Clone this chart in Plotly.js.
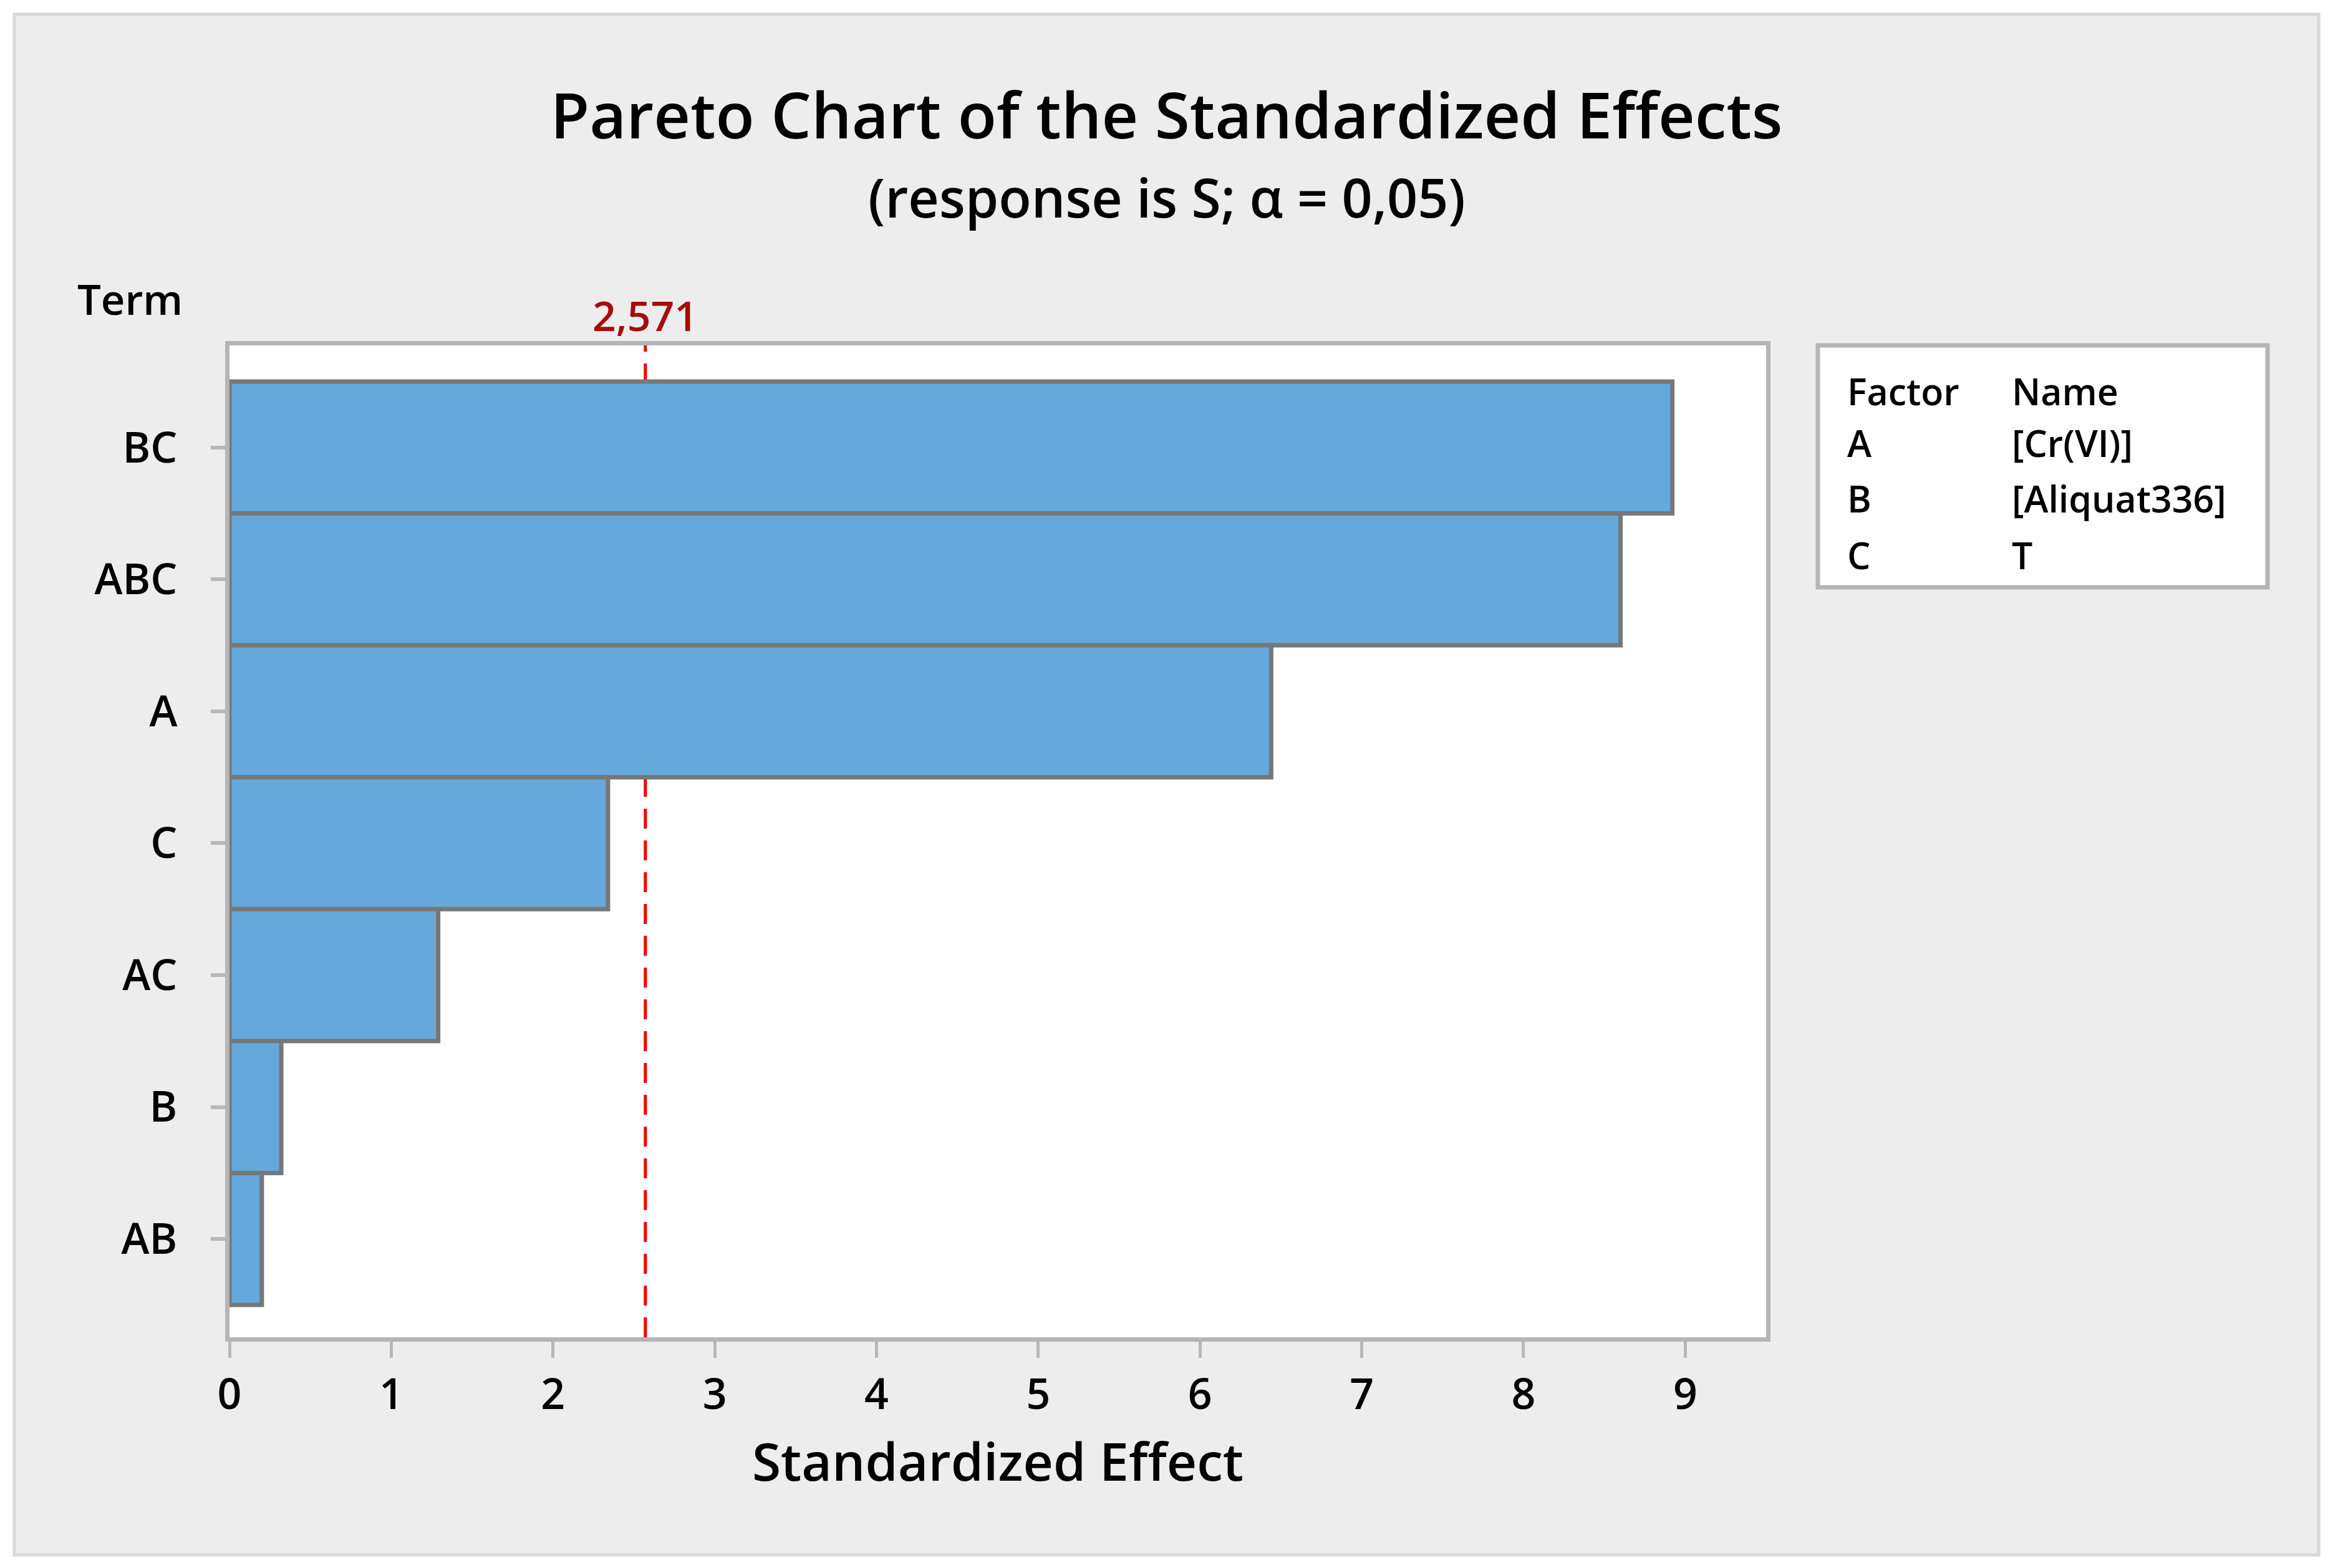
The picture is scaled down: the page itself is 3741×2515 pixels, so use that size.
<!DOCTYPE html>
<html>
<head>
<meta charset="utf-8">
<script src="https://cdn.plot.ly/plotly-3.0.1.min.js"></script>
<style>html,body{margin:0;padding:0;background:#fff;}#chart{width:3741px;height:2515px;}</style>
</head>
<body>
<div id="chart"></div>
<script>
// ---- data ----
const terms = ["BC", "ABC", "A", "C", "AC", "B", "AB"];
const effects = [8.92, 8.60, 6.44, 2.34, 1.29, 0.32, 0.20];
const criticalValue = 2.571;
const criticalLabel = "2,571";
const xTickVals = [0, 1, 2, 3, 4, 5, 6, 7, 8, 9];
const factorLetters = ["A", "B", "C"];
const factorNames = ["[Cr(VI)]", "[Aliquat336]", "T"];

// ---- layout geometry ----
const W = 3741, H = 2515;
const L = 368, R = 909, T = 554, B = 370;
const pw = W - L - R, ph = H - T - B;
const px = p => (p - L) / pw;
const py = p => (H - B - p) / ph;
const FONT = "Open Sans, Noto Sans, DejaVu Sans, sans-serif";
const WT = 600;

const shapes = [
  {type: "line", xref: "x", yref: "paper", x0: criticalValue, x1: criticalValue, y0: 0, y1: 1,
   line: {color: "#ee0000", width: 5, dash: "32px,19px"}, layer: "below"},
  {type: "rect", xref: "paper", yref: "paper", x0: px(2915), x1: px(3636), y0: py(554), y1: py(942),
   fillcolor: "#ffffff", line: {color: "#b5b5b5", width: 7}, layer: "above"},
  {type: "rect", xref: "paper", yref: "paper", x0: px(10), x1: px(W - 10), y0: py(10), y1: py(H - 10),
   line: {color: "#ffffff", width: 21}, layer: "above"},
  {type: "rect", xref: "paper", yref: "paper", x0: px(23), x1: px(3718), y0: py(23), y1: py(2494),
   line: {color: "#d8d8d8", width: 5}, layer: "above"}
];

const annotations = [
  {text: "(response is S; α = 0,05)", xref: "paper", yref: "paper", x: px(1871), y: py(315),
   xanchor: "center", yanchor: "middle", showarrow: false, font: {family: FONT, size: 86, weight: WT, color: "#000"}},
  {text: "Term", xref: "paper", yref: "paper", x: px(122), y: py(479),
   xanchor: "left", yanchor: "middle", showarrow: false, font: {family: FONT, size: 67, weight: WT, color: "#000"}},
  {text: criticalLabel, xref: "x", yref: "paper", x: criticalValue, y: py(505),
   xanchor: "center", yanchor: "middle", showarrow: false, font: {family: FONT, size: 66, weight: WT, color: "#a50d0d"}},
  {text: "Factor", xref: "paper", yref: "paper", x: px(2960), y: py(627),
   xanchor: "left", yanchor: "middle", showarrow: false, font: {family: FONT, size: 59, weight: WT, color: "#000"}},
  {text: "Name", xref: "paper", yref: "paper", x: px(3224), y: py(627),
   xanchor: "left", yanchor: "middle", showarrow: false, font: {family: FONT, size: 59, weight: WT, color: "#000"}}
];
const rowY = [710, 799, 890];
factorLetters.forEach((f, i) => {
  annotations.push({text: f, xref: "paper", yref: "paper", x: px(2960), y: py(rowY[i]),
    xanchor: "left", yanchor: "middle", showarrow: false, font: {family: FONT, size: 59, weight: WT, color: "#000"}});
  annotations.push({text: factorNames[i], xref: "paper", yref: "paper", x: px(3224), y: py(rowY[i]),
    xanchor: "left", yanchor: "middle", showarrow: false, font: {family: FONT, size: 59, weight: WT, color: "#000"}});
});

const trace = {
  type: "bar", orientation: "h", x: effects, y: terms,
  marker: {color: "#65a8dc", line: {color: "#777777", width: 7}},
  hoverinfo: "x+y"
};

const layout = {
  width: W, height: H,
  margin: {l: L, r: R, t: T, b: B, pad: 0},
  paper_bgcolor: "#ededed", plot_bgcolor: "#ffffff",
  font: {family: FONT, color: "#000"},
  showlegend: false,
  bargap: 0,
  title: {text: "Pareto Chart of the Standardized Effects", xref: "container", x: 0.5, xanchor: "center",
          yref: "container", y: 1 - 186 / H, yanchor: "middle", font: {family: FONT, size: 102, weight: WT, color: "#000"}},
  xaxis: {
    range: [0, 9.5], tickmode: "array", tickvals: xTickVals, ticktext: xTickVals.map(String),
    showgrid: false, zeroline: false, showline: true, mirror: true, linecolor: "#b5b5b5", linewidth: 7,
    ticks: "outside", ticklen: 26, tickwidth: 5, tickcolor: "#b8b8b8",
    tickfont: {family: FONT, size: 68, weight: WT, color: "#000"},
    title: {text: "Standardized Effect", font: {family: FONT, size: 84, weight: WT, color: "#000"}, standoff: 40},
    layer: "below traces", fixedrange: true
  },
  yaxis: {
    type: "category", categoryorder: "array", categoryarray: terms, range: [6.746, -0.774],
    showgrid: false, zeroline: false, showline: true, mirror: true, linecolor: "#b5b5b5", linewidth: 7,
    ticks: "outside", ticklen: 23, tickwidth: 6, tickcolor: "#b8b8b8",
    tickfont: {family: FONT, size: 68, weight: WT, color: "#000"}, ticklabelstandoff: 40,
    layer: "below traces", fixedrange: true
  },
  shapes: shapes,
  annotations: annotations
};

Plotly.newPlot("chart", [trace], layout, {displayModeBar: false, staticPlot: true});
</script>
</body>
</html>
